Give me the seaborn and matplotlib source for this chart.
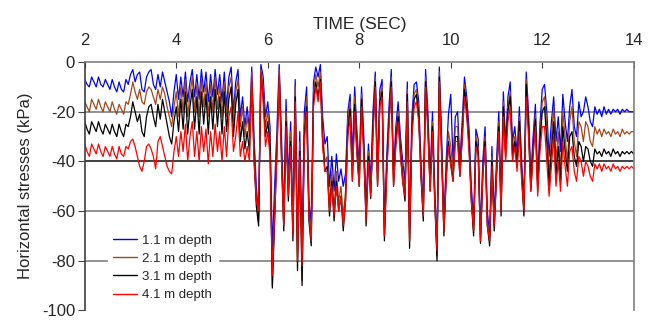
import numpy as np
import pandas as pd
import seaborn as sns
import matplotlib.pyplot as plt

# values, one every 0.05 s from 2 s to 14 s
# (each row below is one second, the first row starts at 2.00 s)
blue = [-7, -9, -10, -6, -8, -10, -6, -9, -10, -7, -9, -11, -7, -10, -12, -8, -11, -12, -7, -9, -5,
        -3, -8, -5, -4, -11, -12, -6, -4, -3, -9, -11, -5, -10, -4, -8, -12, -16, -22, -12, -5,
        -15, -6, -14, -4, -16, -8, -3, -14, -5, -15, -3, -12, -4, -16, -5, -14, -3, -13, -5, -16,
        -4, -18, -6, -2, -20, -8, -3, -22, -14, -26, -18, -28, -2, -30, -50, -62, -1, -6, -22, -16,
        -26, -76, -50, -28, -1, -30, -62, -15, -48, -24, -64, -7, -72, -28, -74, -20, -10, -55, -66, -8,
        -2, -6, -1, -22, -33, -30, -50, -38, -52, -37, -48, -43, -50, -45, -20, -13, -38, -10, -28, -42,
        -10, -30, -58, -33, -48, -20, -4, -44, -11, -7, -66, -38, -18, -3, -44, -26, -16, -30, -40, -48,
        -8, -66, -22, -9, -8, -16, -40, -58, -3, -20, -46, -20, -50, -74, -2, -30, -64, -40, -21, -13,
        -40, -22, -20, -40, -24, -6, -14, -27, -50, -64, -27, -31, -68, -40, -26, -60, -70, -34, -62, -40,
        -20, -55, -12, -33, -14, -8, -32, -26, -37, -18, -40, -56, -4, -20, -46, -30, -17, -48, -25, -11,
        -9, -20, -38, -24, -14, -32, -22, -36, -13, -24, -32, -18, -11, -26, -30, -16, -22, -20, -14, -18,
        -24, -26, -18, -21, -19, -22, -18, -21, -19, -21, -19, -20, -19, -21, -19, -20, -19, -20, -20, -20]

brown = [-16, -18, -20, -15, -17, -19, -15, -18, -20, -16, -18, -20, -16, -19, -21, -17, -19, -21, -16, -17, -13,
         -8, -12, -15, -11, -16, -17, -12, -10, -11, -14, -17, -11, -15, -10, -13, -18, -22, -26, -18, -12,
         -22, -10, -20, -7, -22, -13, -6, -20, -9, -22, -7, -18, -8, -22, -9, -20, -6, -19, -9, -22,
         -8, -22, -10, -6, -24, -12, -7, -26, -18, -30, -22, -30, -4, -34, -55, -64, -3, -10, -26, -20,
         -30, -90, -60, -32, -3, -34, -66, -20, -52, -28, -68, -10, -80, -32, -88, -26, -14, -60, -70, -12,
         -5, -10, -4, -28, -40, -38, -58, -44, -60, -44, -56, -50, -62, -52, -24, -16, -44, -14, -32, -46,
         -13, -34, -62, -36, -52, -24, -6, -48, -14, -10, -70, -42, -22, -6, -48, -30, -20, -34, -44, -52,
         -11, -72, -26, -13, -11, -20, -44, -62, -6, -24, -50, -24, -54, -78, -4, -34, -68, -44, -28, -34,
         -44, -26, -26, -44, -28, -9, -18, -32, -54, -68, -30, -35, -72, -44, -30, -64, -72, -38, -66, -44,
         -24, -58, -16, -36, -18, -12, -36, -30, -40, -22, -44, -58, -7, -24, -50, -34, -21, -50, -30, -16,
         -14, -26, -46, -30, -18, -40, -28, -44, -20, -30, -40, -24, -18, -32, -38, -24, -26, -32, -24, -26,
         -32, -34, -26, -29, -27, -30, -27, -29, -28, -30, -27, -29, -28, -30, -27, -29, -28, -29, -28, -28]

black = [-24, -27, -29, -24, -26, -28, -24, -27, -29, -25, -27, -29, -25, -28, -30, -25, -28, -30, -25, -26, -22,
         -16, -20, -24, -21, -28, -30, -22, -18, -17, -22, -26, -17, -23, -15, -20, -25, -30, -33, -24, -18,
         -28, -15, -27, -12, -29, -18, -11, -27, -14, -29, -12, -25, -13, -29, -14, -27, -11, -26, -14, -29,
         -12, -28, -15, -10, -30, -17, -11, -32, -24, -35, -28, -36, -8, -38, -58, -66, -5, -14, -30, -24,
         -34, -91, -64, -36, -6, -38, -68, -24, -56, -32, -72, -14, -84, -36, -90, -30, -18, -64, -74, -16,
         -8, -14, -7, -32, -44, -42, -62, -48, -64, -48, -60, -54, -68, -56, -28, -19, -48, -17, -36, -50,
         -15, -36, -66, -38, -55, -27, -8, -50, -16, -12, -72, -44, -24, -8, -50, -32, -22, -36, -48, -56,
         -13, -75, -28, -15, -13, -22, -46, -64, -8, -26, -52, -26, -56, -80, -6, -36, -70, -46, -32, -40,
         -48, -30, -30, -46, -30, -11, -20, -34, -56, -70, -32, -37, -73, -46, -32, -66, -74, -40, -68, -46,
         -26, -62, -18, -38, -20, -14, -38, -32, -42, -24, -46, -62, -9, -26, -52, -36, -23, -52, -32, -20,
         -18, -32, -50, -36, -24, -46, -34, -48, -26, -36, -44, -30, -28, -38, -42, -32, -34, -40, -34, -35,
         -40, -42, -35, -37, -36, -38, -35, -37, -36, -38, -35, -37, -36, -38, -36, -37, -36, -37, -36, -37]

red = [-33, -36, -38, -33, -35, -37, -33, -36, -38, -34, -36, -38, -34, -37, -39, -34, -37, -38, -34, -35, -32,
       -31, -34, -38, -42, -44, -40, -34, -33, -35, -38, -43, -32, -30, -34, -38, -42, -44, -45, -36, -30,
       -38, -28, -36, -25, -40, -30, -24, -38, -28, -40, -26, -36, -27, -41, -28, -38, -25, -36, -28, -40,
       -26, -38, -22, -18, -36, -30, -20, -38, -32, -40, -34, -40, -6, -40, -56, -60, -4, -16, -34, -28,
       -38, -86, -62, -38, -5, -40, -66, -26, -54, -34, -70, -16, -80, -38, -82, -32, -20, -62, -72, -18,
       -10, -16, -8, -34, -44, -44, -60, -50, -62, -50, -60, -54, -66, -56, -30, -22, -48, -20, -38, -50,
       -18, -38, -64, -40, -54, -30, -10, -50, -18, -14, -70, -46, -26, -10, -50, -34, -24, -38, -48, -54,
       -16, -72, -30, -18, -16, -24, -46, -62, -10, -28, -52, -28, -56, -76, -8, -38, -68, -48, -34, -42,
       -48, -32, -32, -46, -32, -14, -22, -36, -56, -68, -34, -38, -72, -46, -34, -66, -72, -42, -66, -46,
       -28, -60, -22, -40, -24, -18, -40, -34, -44, -28, -48, -60, -14, -30, -52, -38, -26, -54, -36, -26,
       -26, -40, -54, -42, -30, -50, -40, -52, -32, -42, -50, -36, -34, -44, -48, -38, -40, -46, -40, -42,
       -46, -48, -41, -43, -41, -44, -41, -43, -42, -44, -41, -43, -42, -44, -42, -43, -42, -43, -42, -43]

depths = ['1.1 m depth', '2.1 m depth', '3.1 m depth', '4.1 m depth']
colors = ['#0000ff', '#a0481c', '#000000', '#ff0000']

time = np.linspace(2, 14, len(blue))
frames = []
for name, vals in zip(depths, [blue, brown, black, red]):
    frames.append(pd.DataFrame({'Time': time, 'Stress': vals, 'Depth': name}))
df = pd.concat(frames, ignore_index=True)

sns.set_style('white')
plt.rcParams['font.family'] = ['Liberation Sans', 'DejaVu Sans']
plt.rcParams['axes.unicode_minus'] = False

fig = plt.figure(figsize=(6.52, 3.2), dpi=100)
ax = fig.add_axes([0.130, 0.03, 0.842, 0.776])

# horizontal gridlines
for yv in [-20, -60, -80]:
    ax.axhline(yv, color='#808080', lw=1.2, zorder=0)
ax.axhline(-40, color='#202020', lw=1.2, zorder=0)

sns.lineplot(data=df, x='Time', y='Stress', hue='Depth',
             palette=dict(zip(depths, colors)), lw=0.9, ax=ax, sort=False)

ax.set_xlim(2, 14)
ax.set_ylim(-100, 0)
ax.set_xticks([2, 4, 6, 8, 10, 12, 14])
ax.set_yticks([0, -20, -40, -60, -80, -100])
ax.xaxis.tick_top()
ax.xaxis.set_label_position('top')
ax.tick_params(axis='x', direction='in', length=4, labelsize=12, pad=10, color='#404040')
ax.tick_params(axis='y', direction='out', length=5, labelsize=12, pad=2, color='#404040', left=True)
ax.set_xlabel('TIME (SEC)', fontsize=12.5, labelpad=3)
ax.set_ylabel('Horizontal stresses (kPa)', fontsize=12, labelpad=6)

for side in ['top', 'right']:
    ax.spines[side].set_color('#808080')
    ax.spines[side].set_linewidth(1.2)
ax.spines['left'].set_color('#404040')
ax.spines['left'].set_linewidth(1.2)
ax.spines['bottom'].set_visible(False)

leg = ax.legend(loc='lower left', bbox_to_anchor=(0.035, 0.0), frameon=True,
                fontsize=9.5, handlelength=1.8, handletextpad=0.4,
                labelspacing=0.45, borderaxespad=0.3, title=None)
leg.get_frame().set_facecolor('white')
leg.get_frame().set_edgecolor('white')
leg.get_frame().set_alpha(1)
for line in leg.get_lines():
    line.set_linewidth(1.0)

fig.savefig('out.png', dpi=100)
